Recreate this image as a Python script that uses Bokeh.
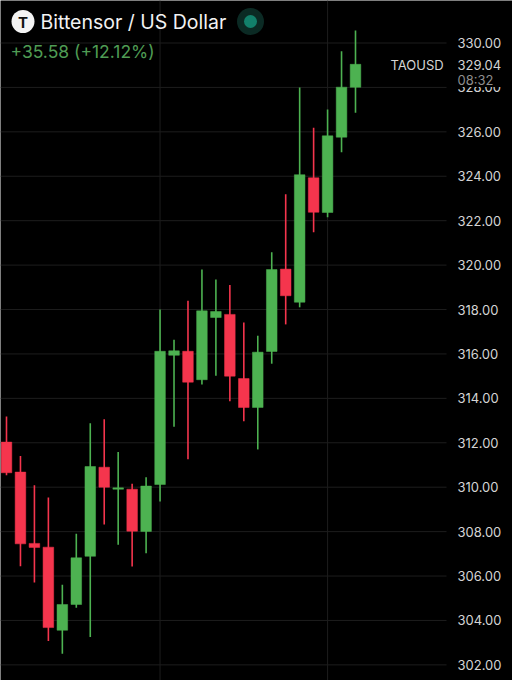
from bokeh.plotting import figure
from bokeh.models import Label, FixedTicker, ColumnDataSource, NumeralTickFormatter, LinearAxis, BoxAnnotation
from bokeh.embed import file_html
from bokeh.resources import INLINE

idx = list(range(26))
opens = [312.03, 310.68, 307.47, 307.30, 303.56, 304.72, 306.89, 310.90, 309.91, 309.91, 308.01, 310.12, 315.94,
         316.12, 314.84, 317.64, 317.78, 314.89, 313.59, 316.11, 319.82, 318.33, 323.93, 322.37, 325.76, 328.01]
closes = [310.65, 307.45, 307.29, 303.68, 304.72, 306.82, 310.93, 310.00, 309.97, 308.02, 310.05, 316.12, 316.14,
          314.73, 317.94, 317.91, 315.00, 313.59, 316.08, 319.80, 318.62, 324.07, 322.38, 325.82, 328.01, 329.04]
highs = [313.18, 311.41, 310.09, 309.54, 305.61, 307.90, 312.88, 313.06, 311.59, 310.15, 310.45, 318.00, 316.64,
         318.39, 319.80, 319.35, 319.10, 317.42, 316.82, 320.58, 323.19, 328.00, 326.18, 327.01, 329.63, 330.56]
lows = [310.54, 306.44, 305.71, 303.07, 302.50, 304.57, 303.25, 308.32, 307.41, 306.43, 307.03, 309.36, 312.72,
        311.26, 314.62, 315.02, 313.87, 312.97, 311.70, 315.56, 317.33, 318.10, 321.48, 322.16, 325.08, 326.86]
price_ticks = [302, 304, 306, 308, 310, 312, 314, 316, 318, 320, 322, 324, 326, 328, 330]
time_ticks = [11, 23]
title_text = "Bittensor / US Dollar"
change_text = "+35.58 (+12.12%)"
symbol_text = "TAOUSD"
last_price = 329.04
countdown = "08:32"

GREEN = "#4db251"
RED = "#f5354d"
W, H = 512, 680
GRID_END = 446
STEP = 13.96
X0 = 6.0
PX_PER_UNIT = 22.21
Y330 = 42.5


def val(py):
    return 330 - (py - Y330) / PX_PER_UNIT


def xv(px):
    return (px - X0) / STEP


colors = [GREEN if c >= o else RED for o, c in zip(opens, closes)]
src = ColumnDataSource(dict(
    x=idx, top=[max(o, c) for o, c in zip(opens, closes)], bottom=[min(o, c) for o, c in zip(opens, closes)],
    high=highs, low=lows, color=colors))

p = figure(width=W, height=H, output_backend="svg", toolbar_location=None,
           x_range=(xv(0), xv(W)), y_range=(val(H), val(0)),
           y_axis_location=None, x_axis_location=None, min_border=0,
           background_fill_color="#000000", border_fill_color="#000000", outline_line_color=None)
p.styles = {"position": "absolute", "left": "0px", "top": "0px"}
p.grid.visible = False

# price scale: a real axis fixed inside the frame, grid lines stop where it starts
ax = LinearAxis(fixed_location=xv(GRID_END), ticker=FixedTicker(ticks=price_ticks),
                formatter=NumeralTickFormatter(format="0.00"),
                axis_line_color=None, major_tick_line_color=None, minor_tick_line_color=None,
                major_tick_out=0, major_tick_in=0, minor_tick_out=0, minor_tick_in=0,
                major_label_text_color="#d4d4d4", major_label_text_font="Inter",
                major_label_text_font_size="13px", major_label_standoff=11)
p.add_layout(ax, "right")

p.segment([xv(0)] * len(price_ticks), price_ticks, [xv(GRID_END)] * len(price_ticks), price_ticks,
          line_color="#1d1d1d", line_width=1)
p.segment(time_ticks, [val(0)] * 2, time_ticks, [val(H)] * 2, line_color="#1d1d1d", line_width=1)

p.segment("x", "high", "x", "low", source=src, line_color="color", line_width=1.6)
p.vbar("x", width=0.76, top="top", bottom="bottom", source=src, fill_color="color", line_color="color", line_width=0.5)

# header icons
p.scatter([xv(250)], [val(21)], size=27, color="#0b2a24", line_color=None)
p.scatter([xv(250)], [val(21)], size=13, color="#12806b", line_color=None)
p.scatter([xv(22.5)], [val(21)], size=23, color="#f4f4f4", line_color=None)

# the live-price tag covers the upper part of the 328.00 label
p.add_layout(BoxAnnotation(left=xv(450), right=xv(W), top=val(57), bottom=val(86.5),
                           fill_color="#000000", fill_alpha=1, line_color=None, level="overlay"))


def lab(text, px, v, size, color, align="left", bold=False):
    p.add_layout(Label(x=px, y=v, x_units="screen", y_units="data", text=text,
                       text_font="Inter", text_font_size=size, text_color=color,
                       text_align=align, text_baseline="middle",
                       text_font_style="bold" if bold else "normal", level="overlay"))


lab("T", 22.5, val(21.5), "15px", "#111111", align="center", bold=True)
lab(title_text, 40, val(21.5), "19.5px", "#f2f2f2")
lab(change_text, 10, val(51), "17.5px", "#4f9c54")
lab(symbol_text, 390, val(64.5), "13px", "#d4d4d4")
lab(f"{last_price:.2f}", 457, val(64.5), "13px", "#d4d4d4")
lab(countdown, 457, val(79), "13px", "#8e8e8e")

html = file_html(p, INLINE)
open("out.html", "w").write(html)
